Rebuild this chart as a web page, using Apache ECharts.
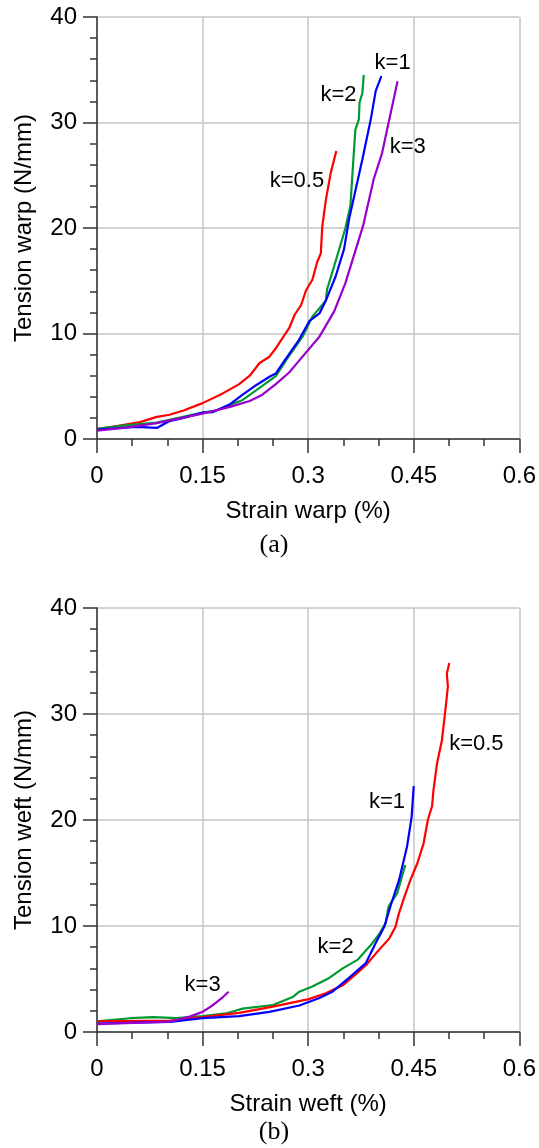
<!DOCTYPE html>
<html>
<head>
<meta charset="utf-8">
<script src="https://cdn.jsdelivr.net/npm/echarts@6/dist/echarts.min.js"></script>
<style>
html,body{margin:0;padding:0;background:#fff;}
#chart{width:539px;height:1148px;}
</style>
</head>
<body>
<div id="chart"></div>
<script>
// ---- Data (strain %, tension N/mm) ----
// (a) warp
var warpK05 = [[0,0.95],[0.03,1.25],[0.061,1.6],[0.085,2.1],[0.103,2.3],[0.123,2.7],[0.15,3.4],[0.178,4.3],[0.202,5.2],[0.217,6.0],[0.231,7.2],[0.245,7.8],[0.254,8.6],[0.264,9.6],[0.273,10.5],[0.281,11.8],[0.29,12.7],[0.297,14.1],[0.306,15.1],[0.313,16.8],[0.318,17.6],[0.32,20.1],[0.325,22.6],[0.332,25.2],[0.340,27.3]];
var warpK1 = [[0,0.9],[0.056,1.15],[0.085,1.05],[0.103,1.7],[0.123,2.0],[0.15,2.5],[0.165,2.55],[0.189,3.3],[0.207,4.2],[0.226,5.1],[0.245,5.9],[0.254,6.2],[0.264,7.2],[0.287,9.4],[0.302,11.2],[0.316,11.9],[0.325,13.1],[0.339,15.4],[0.351,18.0],[0.358,20.8],[0.367,23.5],[0.377,26.5],[0.389,30.3],[0.396,33.0],[0.404,34.4]];
var warpK2 = [[0,0.97],[0.04,1.3],[0.085,1.55],[0.15,2.5],[0.169,2.7],[0.207,3.7],[0.226,4.6],[0.254,5.95],[0.269,7.5],[0.292,9.7],[0.306,11.6],[0.325,13.1],[0.327,14.2],[0.337,16.4],[0.353,20.0],[0.36,22.1],[0.363,25.2],[0.367,29.3],[0.372,30.3],[0.373,31.9],[0.377,32.8],[0.379,34.5]];
var warpK3 = [[0,0.8],[0.038,1.05],[0.085,1.5],[0.15,2.4],[0.189,3.05],[0.217,3.6],[0.235,4.2],[0.254,5.2],[0.273,6.3],[0.283,7.1],[0.316,9.7],[0.337,12.1],[0.353,14.8],[0.378,20.2],[0.393,24.6],[0.405,27.1],[0.427,33.9]];
// (b) weft
var weftK05 = [[0,1.0],[0.104,1.07],[0.15,1.4],[0.202,1.8],[0.25,2.4],[0.301,3.1],[0.325,3.65],[0.349,4.4],[0.367,5.4],[0.382,6.3],[0.4,7.7],[0.415,8.8],[0.424,9.9],[0.429,11.2],[0.436,12.6],[0.445,14.3],[0.455,15.9],[0.464,17.8],[0.47,20.0],[0.476,21.3],[0.478,22.8],[0.483,25.3],[0.49,27.5],[0.495,30.4],[0.4985,32.6],[0.497,33.8],[0.5005,34.8]];
var weftK1 = [[0,0.8],[0.104,0.95],[0.15,1.3],[0.202,1.5],[0.245,1.9],[0.2875,2.5],[0.316,3.2],[0.3345,3.8],[0.358,5.1],[0.382,6.5],[0.396,8.4],[0.408,9.9],[0.418,12.1],[0.429,14.3],[0.4405,17.5],[0.447,20.3],[0.45,23.2]];
var weftK2 = [[0,1.0],[0.047,1.3],[0.08,1.4],[0.113,1.3],[0.15,1.5],[0.183,1.75],[0.207,2.2],[0.25,2.55],[0.278,3.3],[0.2875,3.8],[0.306,4.3],[0.33,5.1],[0.349,6.0],[0.37,6.8],[0.389,8.2],[0.40,9.15],[0.41,10.25],[0.414,11.8],[0.4265,13.1],[0.438,15.75]];
var weftK3 = [[0,0.75],[0.1035,0.97],[0.1316,1.45],[0.15,1.9],[0.165,2.55],[0.179,3.3],[0.187,3.8]];

// curve label anchors (data coordinates)
var warpLabels = [{name:'k=1',value:[0.42,35.6]},{name:'k=2',value:[0.343,32.6]},{name:'k=3',value:[0.4415,27.7]},{name:'k=0.5',value:[0.284,24.5]}];
var weftLabels = [{name:'k=0.5',value:[0.539,27.2]},{name:'k=1',value:[0.412,21.7]},{name:'k=2',value:[0.339,8.0]},{name:'k=3',value:[0.150,4.4]}];

var xTitles = ['Strain warp (%)','Strain weft (%)'];
var yTitles = ['Tension warp (N/mm)','Tension weft (N/mm)'];
var panelTags = ['(a)','(b)'];

var colors = {k05:'#ff0000', k1:'#0000ff', k2:'#009933', k3:'#9900cc'};
var FONT = "'Liberation Sans', Arial, sans-serif";

function xAxisOpt(idx){
  return {
    gridIndex: idx, type:'value', min:0, max:0.6, interval:0.15,
    name: xTitles[idx], nameLocation:'middle', nameGap:60,
    nameTextStyle:{fontFamily:FONT,fontSize:24,color:'#000'},
    axisLine:{show:true,onZero:false,lineStyle:{color:'#333',width:1.5}},
    axisTick:{show:true,inside:false,length:14,lineStyle:{color:'#333',width:1.5}},
    minorTick:{show:true,splitNumber:3,length:7,lineStyle:{color:'#333',width:1.5}},
    axisLabel:{fontFamily:FONT,fontSize:24,color:'#000',margin:25},
    splitLine:{show:true,lineStyle:{color:'#c4c4c4',width:1.5}},
    minorSplitLine:{show:false}
  };
}
function yAxisOpt(idx){
  return {
    gridIndex: idx, type:'value', min:0, max:40, interval:10,
    name: yTitles[idx], nameLocation:'middle', nameGap:61, nameRotate:90,
    nameTextStyle:{fontFamily:FONT,fontSize:24,color:'#000'},
    axisLine:{show:true,onZero:false,lineStyle:{color:'#333',width:1.5}},
    axisTick:{show:true,inside:false,length:14,lineStyle:{color:'#333',width:1.5}},
    minorTick:{show:true,splitNumber:5,length:7,lineStyle:{color:'#333',width:1.5}},
    axisLabel:{fontFamily:FONT,fontSize:24,color:'#000',margin:20},
    splitLine:{show:true,lineStyle:{color:'#c4c4c4',width:1.5}},
    minorSplitLine:{show:false}
  };
}
function lineSeries(idx,data,color){
  return {type:'line',xAxisIndex:idx,yAxisIndex:idx,data:data,showSymbol:false,symbol:'none',
    lineStyle:{color:color,width:2.2},silent:true,animation:false,z:3};
}
function labelSeries(idx,data){
  return {type:'scatter',xAxisIndex:idx,yAxisIndex:idx,data:data,symbolSize:0,
    itemStyle:{color:'#000',opacity:1},silent:true,animation:false,z:4,
    label:{show:true,position:[0,0],align:'center',verticalAlign:'middle',
      formatter:function(p){return p.name;},
      fontFamily:FONT,fontSize:22,color:'#000',textBorderWidth:0,opacity:1}};
}

var chart = echarts.init(document.getElementById('chart'),null,{renderer:'canvas'});
chart.setOption({
  backgroundColor:'#fff',
  animation:false,
  grid:[
    {left:97,top:17,width:424,height:422},
    {left:97,top:608,width:424,height:424}
  ],
  xAxis:[xAxisOpt(0),xAxisOpt(1)],
  yAxis:[yAxisOpt(0),yAxisOpt(1)],
  graphic:[
    {type:'text',x:274,y:545,style:{text:panelTags[0],fontFamily:"'Liberation Serif','Times New Roman',serif",fontSize:26,fill:'#000',textAlign:'center',textVerticalAlign:'middle'}},
    {type:'text',x:274,y:1132,style:{text:panelTags[1],fontFamily:"'Liberation Serif','Times New Roman',serif",fontSize:26,fill:'#000',textAlign:'center',textVerticalAlign:'middle'}}
  ],
  series:[
    lineSeries(0,warpK05,colors.k05),
    lineSeries(0,warpK2,colors.k2),
    lineSeries(0,warpK1,colors.k1),
    lineSeries(0,warpK3,colors.k3),
    labelSeries(0,warpLabels),
    lineSeries(1,weftK2,colors.k2),
    lineSeries(1,weftK05,colors.k05),
    lineSeries(1,weftK1,colors.k1),
    lineSeries(1,weftK3,colors.k3),
    labelSeries(1,weftLabels)
  ]
});
</script>
</body>
</html>
